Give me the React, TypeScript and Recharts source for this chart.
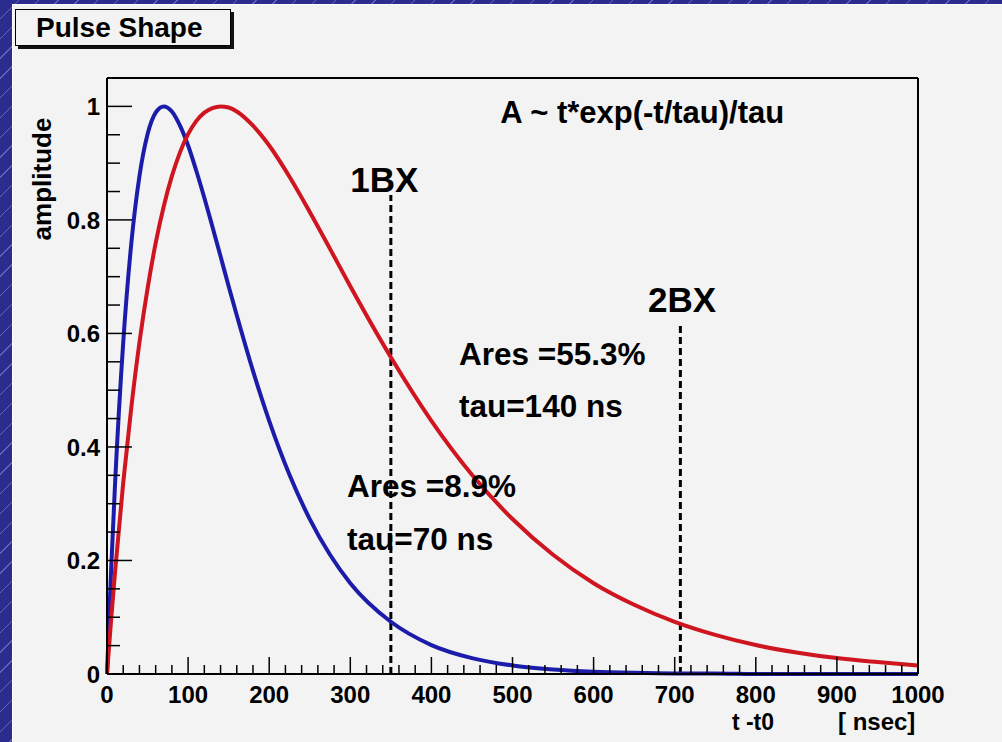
import { LineChart, Line, XAxis, YAxis, ReferenceLine, ReferenceDot, Label } from "recharts";

// time after t0 [nsec]
const tValues = [
  0, 5, 10, 20, 30, 40, 50, 60, 70, 80, 90, 100, 110, 120, 130, 140, 150, 160, 180, 200, 225, 250, 275, 300,
  350, 400, 450, 500, 550, 600, 650, 700, 750, 800, 850, 900, 950, 1000,
];
// tau = 70 ns pulse (blue)
const blueAmp = [
  0, 0.181, 0.337, 0.584, 0.759, 0.877, 0.951, 0.989, 1.0, 0.991, 0.966, 0.931, 0.887, 0.839, 0.788, 0.736,
  0.683, 0.632, 0.534, 0.446, 0.351, 0.273, 0.21, 0.16, 0.092, 0.051, 0.028, 0.015, 0.008, 0.004, 0.002, 0.001,
  0.001, 0, 0, 0, 0, 0,
];
// tau = 140 ns pulse (red)
const redAmp = [
  0, 0.094, 0.181, 0.337, 0.47, 0.584, 0.679, 0.759, 0.824, 0.877, 0.919, 0.951, 0.974, 0.989, 0.997, 1.0,
  0.998, 0.991, 0.966, 0.931, 0.876, 0.814, 0.749, 0.683, 0.558, 0.446, 0.351, 0.273, 0.21, 0.16, 0.122, 0.092,
  0.069, 0.051, 0.038, 0.028, 0.021, 0.015,
];

const xTicks = Array.from({ length: 51 }, (_, i) => i * 20);
const yTicks = Array.from({ length: 21 }, (_, i) => Math.round(i * 5) / 100);

// bunch crossing markers: [t, top of dashed line]
const bxT = [350, 707];
const bxTop = [0.844, 0.615];

const noteText = ["A ~ t*exp(-t/tau)/tau", "1BX", "2BX", "Ares =55.3%", "tau=140 ns", "Ares =8.9%", "tau=70 ns"];
const noteT = [485, 300, 667, 434, 434, 296, 296];
const noteAmp = [0.97, 0.849, 0.638, 0.544, 0.453, 0.312, 0.218];
const noteSize = [31, 35, 35, 31.5, 31.5, 31.5, 31.5];

const data = tValues.map((t, i) => ({ t, blue: blueAmp[i], red: redAmp[i] }));

const FONT = "'Liberation Sans', Arial, Helvetica, sans-serif";

function XTick(props: any) {
  const { x, y, payload } = props;
  const v = payload.value;
  const major = v % 100 === 0;
  return (
    <g>
      <line x1={x} x2={x} y1={y} y2={y - (major ? 17 : 9)} stroke="#000" strokeWidth={1.5} />
      {major && (
        <text x={x} y={y + 29} textAnchor="middle" fontFamily={FONT} fontWeight="bold" fontSize={24} fill="#000">
          {v}
        </text>
      )}
    </g>
  );
}

function YTick(props: any) {
  const { x, y, payload } = props;
  const v = payload.value;
  const major = Math.abs(v * 5 - Math.round(v * 5)) < 1e-6;
  return (
    <g>
      <line x1={x} x2={x + (major ? 25 : 13)} y1={y} y2={y} stroke="#000" strokeWidth={1.5} />
      {major && (
        <text x={x - 7} y={y} dy="0.36em" textAnchor="end" fontFamily={FONT} fontWeight="bold" fontSize={24} fill="#000">
          {String(Math.round(v * 10) / 10)}
        </text>
      )}
    </g>
  );
}

export default function App() {
  return (
    <div
      style={{
        position: "absolute",
        left: 0,
        top: 0,
        width: 1002,
        height: 742,
        overflow: "hidden",
        background: "repeating-linear-gradient(135deg, #2c2c8e 0px, #2c2c8e 13px, #6464b8 13px, #6464b8 14px)",
      }}
    >
      <div
        style={{
          position: "absolute",
          left: 12,
          top: 4,
          right: 0,
          bottom: 0,
          background: "#f3f3f3",
          borderLeft: "1px solid #fff",
          borderTop: "1px solid #fff",
        }}
      />
      <div
        style={{
          position: "absolute",
          left: 15,
          top: 9,
          width: 194,
          height: 35,
          border: "1.5px solid #000",
          boxShadow: "3px 3px 0 #111",
          background: "#f3f3f3",
          fontFamily: FONT,
          fontWeight: "bold",
          fontSize: 28,
          lineHeight: "35px",
          paddingLeft: 20,
          boxSizing: "content-box",
          color: "#000",
        }}
      >
        Pulse Shape
      </div>
      <div style={{ position: "absolute", left: 0, top: 0 }}>
        <LineChart width={1002} height={742} data={data} margin={{ top: 77, right: 83, bottom: 67, left: 106 }}>
          <XAxis
            dataKey="t"
            type="number"
            domain={[0, 1000]}
            ticks={xTicks}
            interval={0}
            height={1}
            tickSize={0}
            tickMargin={0}
            tickLine={false}
            tick={<XTick />}
            axisLine={{ stroke: "#000", strokeWidth: 2 }}
          >
            <Label
              content={(p: any) => (
                <g fontFamily={FONT} fontWeight="bold" fill="#000">
                  <text x={753} y={730} textAnchor="middle" fontSize={23}>t -t0</text>
                  <text x={838} y={730} fontSize={24}>[ nsec]</text>
                </g>
              )}
            />
          </XAxis>
          <XAxis
            xAxisId="top"
            orientation="top"
            type="number"
            domain={[0, 1000]}
            height={1}
            tick={false}
            tickLine={false}
            axisLine={{ stroke: "#000", strokeWidth: 2 }}
          />
          <YAxis
            type="number"
            domain={[0, 1.05]}
            ticks={yTicks}
            interval={0}
            width={1}
            tickSize={0}
            tickMargin={0}
            tickLine={false}
            tick={<YTick />}
            axisLine={{ stroke: "#000", strokeWidth: 2 }}
          >
            <Label
              content={(p: any) => (
                <text
                  x={51}
                  y={179}
                  transform="rotate(-90 51 179)"
                  textAnchor="middle"
                  fontFamily={FONT}
                  fontWeight="bold"
                  fontSize={26}
                  fill="#000"
                >
                  amplitude
                </text>
              )}
            />
          </YAxis>
          <YAxis
            yAxisId="right"
            orientation="right"
            type="number"
            domain={[0, 1.05]}
            width={1}
            tick={false}
            tickLine={false}
            axisLine={{ stroke: "#000", strokeWidth: 2 }}
          />
          {bxT.map((t, i) => (
            <ReferenceLine
              key={"bx" + i}
              segment={[
                { x: t, y: 0 },
                { x: t, y: bxTop[i] },
              ]}
              stroke="#000"
              strokeWidth={3}
              strokeDasharray="7 4"
            />
          ))}
          <Line type="monotone" dataKey="blue" stroke="#1c1caa" strokeWidth={4} dot={false} isAnimationActive={false} />
          <Line type="monotone" dataKey="red" stroke="#cf1520" strokeWidth={4} dot={false} isAnimationActive={false} />
          {noteText.map((txt, i) => (
            <ReferenceDot
              key={"n" + i}
              x={noteT[i]}
              y={noteAmp[i]}
              r={0}
              fill="none"
              stroke="none"
              label={(p: any) => (
                <text
                  x={p.viewBox.x}
                  y={p.viewBox.y}
                  fontFamily={FONT}
                  fontWeight="bold"
                  fontSize={noteSize[i]}
                  fill="#000"
                >
                  {txt}
                </text>
              )}
            />
          ))}
        </LineChart>
      </div>
    </div>
  );
}
